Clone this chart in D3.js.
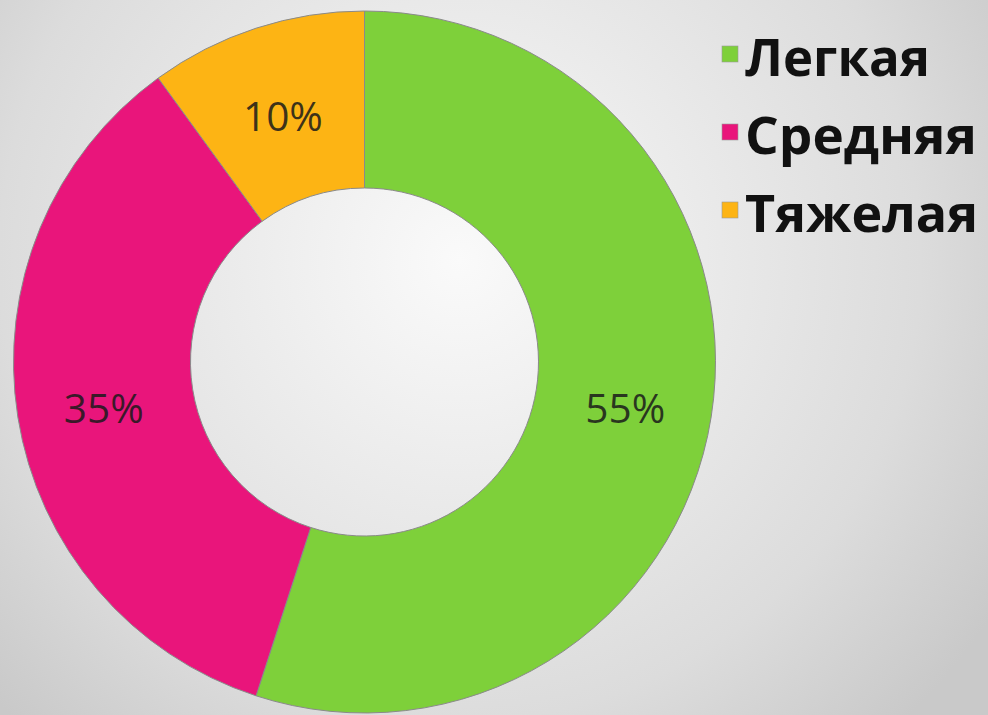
<!DOCTYPE html>
<html>
<head>
<meta charset="utf-8">
<script src="https://cdn.jsdelivr.net/npm/d3@7"></script>
<style>
html,body{margin:0;padding:0;overflow:hidden;background:#ddd;}
svg{display:block;}
</style>
</head>
<body>
<svg id="chart" width="988" height="715"></svg>
<script>
const categories = ["Легкая", "Средняя", "Тяжелая"];
const values = [55, 35, 10];
const labels = ["55%", "35%", "10%"];
const colors = ["#7ed03a", "#e9157b", "#fdb414"];

const W = 988, H = 715;
const svg = d3.select("#chart");
const defs = svg.append("defs");
const grad = defs.append("radialGradient")
  .attr("id", "bg").attr("gradientUnits", "userSpaceOnUse")
  .attr("cx", 460).attr("cy", 260).attr("r", 640);
grad.append("stop").attr("offset", 0).attr("stop-color", "#fafafa");
grad.append("stop").attr("offset", 0.72).attr("stop-color", "#dcdcdc");
grad.append("stop").attr("offset", 1).attr("stop-color", "#c9c9c9");
svg.append("rect").attr("width", W).attr("height", H).attr("fill", "url(#bg)");

const cx = 364.5, cy = 362, rOuter = 351, rInner = 174;
const pie = d3.pie().sort(null).value(d => d)(values);
const arc = d3.arc().innerRadius(rInner).outerRadius(rOuter);
const labelArc = d3.arc().innerRadius(264).outerRadius(264);

const g = svg.append("g").attr("transform", `translate(${cx},${cy})`);
g.selectAll("path").data(pie).join("path")
  .attr("d", arc)
  .attr("fill", (d, i) => colors[i])
  .attr("stroke", "#8a8a8a")
  .attr("stroke-width", 1);

g.selectAll("text.lbl").data(pie).join("text")
  .attr("class", "lbl")
  .attr("transform", d => { const c = labelArc.centroid(d); return `translate(${c[0]},${c[1]})`; })
  .attr("text-anchor", "middle")
  .attr("dy", "0.48em")
  .attr("font-family", "'Open Sans', 'Liberation Sans', sans-serif")
  .attr("font-size", 41)
  .attr("fill", "#1a1a1a")
  .attr("fill-opacity", 0.85)
  .attr("textLength", 80)
  .attr("lengthAdjust", "spacingAndGlyphs")
  .text((d, i) => labels[i]);

// legend
const legendY = d3.scalePoint().domain(categories).range([76, 232]);
const leg = svg.append("g");
const items = leg.selectAll("g").data(categories).join("g")
  .attr("transform", d => `translate(0,${legendY(d)})`);
items.append("rect")
  .attr("x", 722).attr("y", -30).attr("width", 16).attr("height", 16)
  .attr("fill", (d, i) => colors[i])
  .attr("stroke", "#999").attr("stroke-width", 0.6);
const widths = [185, 232, 233];
items.append("text")
  .attr("x", 745).attr("y", 0)
  .attr("font-family", "'Open Sans', 'Liberation Sans', sans-serif")
  .attr("font-weight", "bold")
  .attr("font-size", 52)
  .attr("fill", "#111")
  .attr("textLength", (d, i) => widths[i])
  .attr("lengthAdjust", "spacingAndGlyphs")
  .text(d => d);
</script>
</body>
</html>
